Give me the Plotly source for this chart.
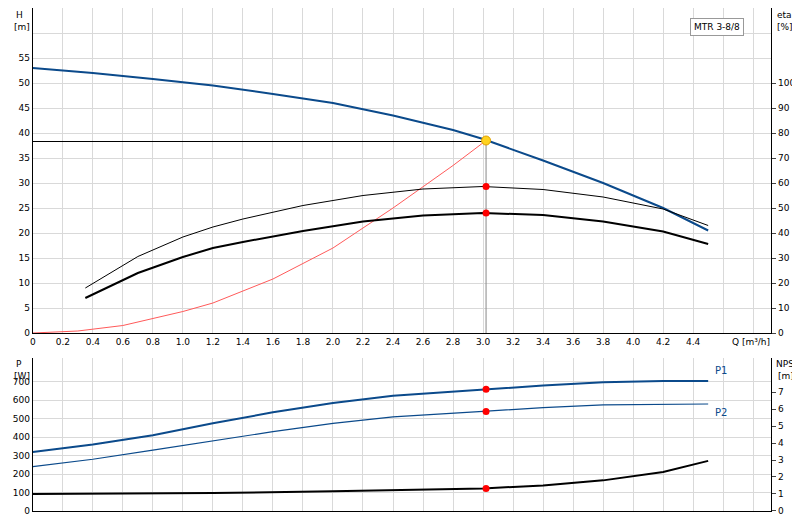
import plotly.graph_objects as go

# H curve [m]
q_h = [0, 0.4, 0.8, 1.2, 1.6, 2.0, 2.4, 2.8, 3.0, 3.4, 3.8, 4.2, 4.5]
h = [53, 52, 50.8, 49.5, 47.8, 46, 43.5, 40.6, 38.8, 34.5, 30, 25, 20.5]

# efficiency curves [%]
q_eta = [0.35, 0.7, 1.0, 1.2, 1.4, 1.8, 2.2, 2.6, 3.0, 3.4, 3.8, 4.2, 4.5]
eta_pump = [18, 30.6, 38.4, 42.4, 45.6, 51, 55, 57.6, 58.6, 57.4, 54.4, 49.6, 43]
eta_tot = [14, 24, 30.4, 34, 36.4, 40.8, 44.6, 47, 48, 47.2, 44.6, 40.6, 35.6]

# system curve [m]
q_sys = [0, 0.3, 0.6, 1.0, 1.2, 1.6, 2.0, 2.4, 2.8, 3.02]
h_sys = [0, 0.4, 1.5, 4.3, 6, 10.8, 17, 25, 33.5, 38.5]

# power [W]
q_p = [0, 0.4, 0.8, 1.2, 1.6, 2.0, 2.4, 3.0, 3.4, 3.8, 4.2, 4.5]
p1 = [320, 360, 410, 475, 535, 585, 625, 660, 680, 698, 705, 705]
p2 = [240, 280, 330, 380, 430, 475, 510, 540, 560, 575, 580, 580]

# NPSH [m]
q_npsh = [0, 1.2, 2.0, 2.6, 3.0, 3.4, 3.8, 4.2, 4.5]
npsh = [1.0, 1.05, 1.15, 1.25, 1.32, 1.5, 1.8, 2.3, 2.95]

q_op = 3.02
h_op = 38.3

fig = go.Figure()
blue = "#0b4a8b"
line = lambda c, w: dict(color=c, width=w)

fig.add_trace(go.Scatter(x=q_h, y=h, mode="lines", line=line(blue, 2), xaxis="x", yaxis="y"))
fig.add_trace(go.Scatter(x=q_eta, y=eta_pump, mode="lines", line=line("black", 1), xaxis="x", yaxis="y2"))
fig.add_trace(go.Scatter(x=q_eta, y=eta_tot, mode="lines", line=line("black", 2), xaxis="x", yaxis="y2"))
fig.add_trace(go.Scatter(x=q_sys, y=h_sys, mode="lines", line=line("#ff5a5a", 1), xaxis="x", yaxis="y"))
fig.add_trace(go.Scatter(x=[0, q_op], y=[h_op, h_op], mode="lines", line=line("black", 1), xaxis="x", yaxis="y"))
fig.add_trace(go.Scatter(x=[q_op, q_op], y=[h_op, 0], mode="lines", line=line("#888888", 1), xaxis="x", yaxis="y"))
fig.add_trace(go.Scatter(x=[q_op, q_op], y=[29.3 * 2, 24 * 2], mode="markers",
                         marker=dict(color="red", size=7), xaxis="x", yaxis="y2"))
fig.add_trace(go.Scatter(x=[q_op], y=[h_op + 0.2], mode="markers",
                         marker=dict(color="#ffd21f", size=9, line=dict(color="#e0a000", width=1)), xaxis="x", yaxis="y"))

fig.add_trace(go.Scatter(x=q_p, y=p1, mode="lines", line=line(blue, 2), xaxis="x2", yaxis="y3"))
fig.add_trace(go.Scatter(x=q_p, y=p2, mode="lines", line=line(blue, 1.2), xaxis="x2", yaxis="y3"))
fig.add_trace(go.Scatter(x=q_npsh, y=npsh, mode="lines", line=line("black", 2), xaxis="x2", yaxis="y4"))
fig.add_trace(go.Scatter(x=[q_op, q_op], y=[660, 540], mode="markers",
                         marker=dict(color="red", size=7), xaxis="x2", yaxis="y3"))
fig.add_trace(go.Scatter(x=[q_op], y=[1.32], mode="markers",
                         marker=dict(color="red", size=7), xaxis="x2", yaxis="y4"))

grid = "#d9d9d9"
xt = [round(i * 0.2, 1) for i in range(25)]
xlab = [("0" if v == 0 else f"{v:.1f}") if v <= 4.41 else "" for v in xt]
ax = dict(range=[0, 4.92], tickvals=xt, showgrid=True, gridcolor=grid, zeroline=False, automargin=False,
          showline=True, linecolor="black", ticks="", tickfont=dict(size=9))
yax = dict(showline=True, linecolor="black", zeroline=False, tickfont=dict(size=9), automargin=False)

fig.update_layout(
    width=800, height=520, margin=dict(l=0, r=0, t=0, b=0),
    paper_bgcolor="white", plot_bgcolor="white", showlegend=False,
    font=dict(family="DejaVu Sans", size=10, color="black"),
    xaxis=dict(ax, domain=[0.031, 0.954], ticktext=xlab, anchor="y"),
    yaxis=dict(yax, domain=[0.375, 1], range=[0, 65], tickvals=list(range(0, 65, 5)),
               ticktext=[str(v) for v in range(0, 60, 5)] + [""], gridcolor=grid, ticks=""),
    yaxis2=dict(yax, overlaying="y", side="right", range=[0, 130], tickvals=list(range(0, 110, 10)),
                showgrid=False, ticks="outside", ticklen=4, anchor="x"),
    xaxis2=dict(ax, domain=[0.031, 0.954], ticktext=[""] * len(xt), anchor="y3"),
    yaxis3=dict(yax, domain=[0.033, 0.327], range=[0, 830], tickvals=list(range(0, 800, 100)),
                ticktext=["0"] + [str(v) for v in range(100, 800, 100)], gridcolor=grid, ticks=""),
    yaxis4=dict(yax, overlaying="y3", side="right", range=[0, 9.03], tickvals=list(range(0, 8)),
                showgrid=False, ticks="outside", ticklen=4, anchor="x2"),
)

ann = [
    (6, 7, "H", "left"), (4, 19, "[m]", "left"), (767, 7, "eta", "left"), (767, 19, "[%]", "left"),
    (6, 356, "P", "left"), (4, 368, "[W]", "left"), (766, 356, "NPSH", "left"), (768, 368, "[m]", "left"),
    (722, 334, "Q [m³/h]", "left"),
]
for x, y, t, a in ann:
    fig.add_annotation(x=x / 800, y=1 - y / 520, xref="paper", yref="paper", text=t, showarrow=False,
                       xanchor=a, yanchor="middle", font=dict(size=9))
fig.add_annotation(x=4.53, y=720, xref="x2", yref="y3", text="P1", showarrow=False,
                   xanchor="left", yanchor="bottom", font=dict(size=10, color=blue))
fig.add_annotation(x=4.53, y=575, xref="x2", yref="y3", text="P2", showarrow=False,
                   xanchor="left", yanchor="top", font=dict(size=10, color=blue))
fig.add_annotation(x=736 / 800, y=1 - 10 / 520, xref="paper", yref="paper", text="MTR 3-8/8",
                   showarrow=False, font=dict(size=9), bgcolor="white", bordercolor="#999",
                   borderwidth=1, borderpad=3)

fig.write_html("out.html")
